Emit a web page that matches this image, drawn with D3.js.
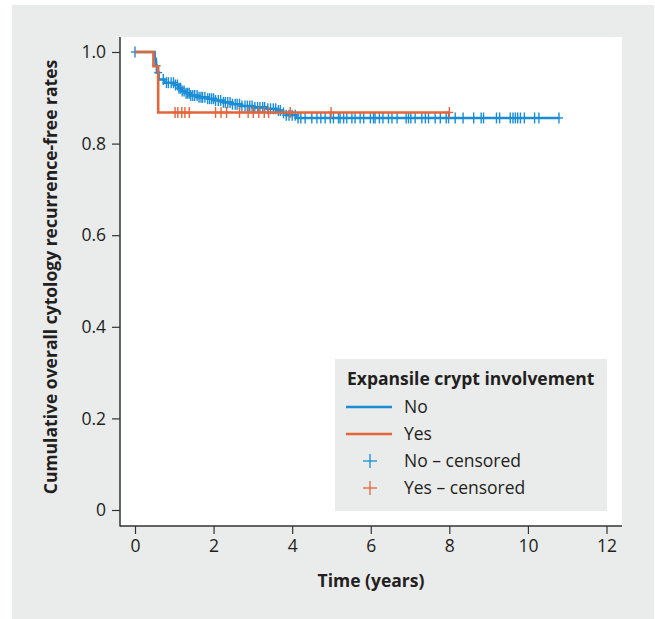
<!DOCTYPE html>
<html>
<head>
<meta charset="utf-8">
<script src="https://cdn.jsdelivr.net/npm/d3@7"></script>
<style>
  body { margin: 0; background: #fff; }
  svg text { font-family: "Open Sans", Lato, sans-serif; fill: #231f20; }
</style>
</head>
<body>
<div id="chart"></div>
<script>
'use strict';

// Kaplan-Meier steps: [time (years), survival]
const noSteps = [[0, 1.0], [0.5, 0.985], [0.53, 0.97], [0.56, 0.955], [0.6, 0.94], [0.75, 0.933],
  [1.0, 0.928], [1.1, 0.921], [1.2, 0.915], [1.3, 0.91], [1.42, 0.905], [1.6, 0.901], [1.85, 0.898],
  [2.05, 0.894], [2.25, 0.89], [2.45, 0.886], [2.7, 0.882], [3.0, 0.879], [3.35, 0.876], [3.6, 0.872],
  [3.75, 0.867], [3.85, 0.862], [4.1, 0.856]];
const noEnd = 10.8;
const yesSteps = [[0, 1.0], [0.47, 0.969], [0.59, 0.868]];
const yesEnd = 8.0;

// censored times
const noCensored = [0, 0.55, 0.59, 0.72, 0.8, 0.85, 0.92, 0.98, 1.03, 1.08, 1.12, 1.16, 1.2, 1.25, 1.3,
  1.34, 1.38, 1.42, 1.47, 1.52, 1.58, 1.63, 1.68, 1.72, 1.78, 1.85, 1.9, 1.95, 2.0, 2.05, 2.12, 2.18,
  2.25, 2.3, 2.36, 2.42, 2.48, 2.55, 2.6, 2.66, 2.72, 2.8, 2.86, 2.92, 2.98, 3.05, 3.12, 3.18, 3.25,
  3.3, 3.38, 3.45, 3.52, 3.58, 3.65, 3.7, 3.78, 3.85, 3.92, 4.0, 4.08, 4.15, 4.22, 4.33, 4.5, 4.63,
  4.73, 4.84, 4.97, 5.05, 5.18, 5.22, 5.31, 5.39, 5.52, 5.6, 5.73, 5.82, 5.99, 6.07, 6.11, 6.22, 6.31,
  6.45, 6.54, 6.67, 6.9, 6.96, 7.02, 7.13, 7.3, 7.39, 7.47, 7.64, 7.77, 7.92, 7.98, 8.15, 8.35, 8.62,
  8.81, 8.87, 9.2, 9.28, 9.55, 9.62, 9.68, 9.74, 9.81, 9.91, 10.17, 10.28, 10.79];
const yesCensored = [1.02, 1.09, 1.19, 1.27, 1.38, 2.05, 2.19, 2.33, 2.66, 2.88, 3.01, 3.15, 3.29,
  3.4, 3.95, 4.99, 8.0];

const xTicks = [0, 2, 4, 6, 8, 10, 12];
const yTicks = [0, 0.2, 0.4, 0.6, 0.8, 1.0];
const legendTitle = 'Expansile crypt involvement';
const legendLabels = ['No', 'Yes', 'No – censored', 'Yes – censored'];

const blue = '#1b8dd6';
const orange = '#e2653b';
const grey = '#eaebeb';
const fontSize = '17.5px';

const W = 655, H = 619;
const svg = d3.select('#chart').append('svg').attr('width', W).attr('height', H);

svg.append('rect').attr('x', 12).attr('y', 5).attr('width', 642).attr('height', 614).attr('fill', grey);
// plot panel
const panel = {left: 120, top: 37, right: 622, bottom: 526};
svg.append('rect')
  .attr('x', panel.left).attr('y', panel.top)
  .attr('width', panel.right - panel.left).attr('height', panel.bottom - panel.top)
  .attr('fill', '#fff');

const x = d3.scaleLinear().domain([0, 12]).range([135, 606.5]);
const y = d3.scaleLinear().domain([0, 1]).range([510, 52]);

// axes
const yAxis = svg.append('g')
  .attr('transform', `translate(${panel.left},0)`)
  .call(d3.axisLeft(y).tickValues(yTicks).tickSize(8).tickSizeOuter(0).tickPadding(6)
    .tickFormat(d => d === 0 ? '0' : d3.format('.1f')(d)));
yAxis.select('.domain').remove();

const xAxis = svg.append('g')
  .attr('transform', `translate(0,${panel.bottom})`)
  .call(d3.axisBottom(x).tickValues(xTicks).tickSize(8).tickSizeOuter(0).tickPadding(6));
xAxis.select('.domain').remove();

[yAxis, xAxis].forEach(g => {
  g.selectAll('.tick line').attr('stroke', '#333').attr('stroke-width', 1.2);
  g.selectAll('.tick text').style('font-size', fontSize).attr('fill', '#231f20');
});

svg.append('line').attr('x1', panel.left).attr('x2', panel.left)
  .attr('y1', panel.top).attr('y2', panel.bottom + 0.5).attr('stroke', '#333').attr('stroke-width', 1.5);
svg.append('line').attr('x1', panel.left).attr('x2', panel.right)
  .attr('y1', panel.bottom).attr('y2', panel.bottom).attr('stroke', '#333').attr('stroke-width', 1.5);

svg.append('text')
  .attr('x', 371).attr('y', 587)
  .attr('text-anchor', 'middle')
  .style('font-size', fontSize).style('font-weight', 'bold')
  .text('Time (years)');

svg.append('text')
  .attr('transform', 'translate(57,277) rotate(-90)')
  .attr('text-anchor', 'middle')
  .style('font-size', fontSize).style('font-weight', 'bold')
  .text('Cumulative overall cytology recurrence-free rates');

// survival curves
const line = d3.line().x(d => x(d[0])).y(d => y(d[1])).curve(d3.curveStepAfter);

function survAt(steps, t) {
  let s = steps[0][1];
  steps.forEach(d => { if (d[0] <= t) s = d[1]; });
  return s;
}

function drawGroup(steps, end, censored, color) {
  const pts = steps.concat([[end, steps[steps.length - 1][1]]]);
  svg.append('path')
    .datum(pts)
    .attr('d', line)
    .attr('fill', 'none')
    .attr('stroke', color)
    .attr('stroke-width', 2.6);

  const marks = svg.append('g').selectAll('g')
    .data(censored)
    .join('g')
    .attr('transform', t => `translate(${x(t)},${y(survAt(steps, t))})`)
    .attr('stroke', color)
    .attr('stroke-width', 1.4);
  marks.append('line').attr('x1', 0).attr('x2', 0).attr('y1', -5.5).attr('y2', 5.5);
  marks.append('line').attr('x1', -4).attr('x2', 4).attr('y1', 0).attr('y2', 0);
}

drawGroup(noSteps, noEnd, noCensored, blue);
drawGroup(yesSteps, yesEnd, yesCensored, orange);

// legend
const legend = svg.append('g');
legend.append('rect')
  .attr('x', 335).attr('y', 359).attr('width', 272).attr('height', 152)
  .attr('fill', grey);
legend.append('text')
  .attr('x', 347).attr('y', 385)
  .style('font-size', fontSize).style('font-weight', 'bold')
  .text(legendTitle);

const rows = [
  {label: legendLabels[0], color: blue, type: 'line'},
  {label: legendLabels[1], color: orange, type: 'line'},
  {label: legendLabels[2], color: blue, type: 'cross'},
  {label: legendLabels[3], color: orange, type: 'cross'}
];
rows.forEach((r, i) => {
  const cy = 407 + i * 27;
  if (r.type === 'line') {
    legend.append('line').attr('x1', 346).attr('x2', 392).attr('y1', cy).attr('y2', cy)
      .attr('stroke', r.color).attr('stroke-width', 2.6);
  } else {
    legend.append('line').attr('x1', 370).attr('x2', 370).attr('y1', cy - 7).attr('y2', cy + 7)
      .attr('stroke', r.color).attr('stroke-width', 1.3);
    legend.append('line').attr('x1', 363).attr('x2', 377).attr('y1', cy).attr('y2', cy)
      .attr('stroke', r.color).attr('stroke-width', 1.3);
  }
  legend.append('text')
    .attr('x', 404).attr('y', cy + 6)
    .style('font-size', fontSize)
    .text(r.label);
});
</script>
</body>
</html>
